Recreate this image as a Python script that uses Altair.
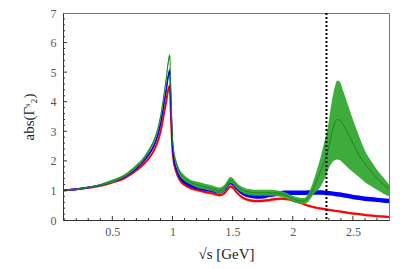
import altair as alt
import pandas as pd

# sqrt(s) grid [GeV]
X = [0.09, 0.2, 0.3, 0.4, 0.5, 0.6, 0.7, 0.75, 0.8, 0.85, 0.88, 0.91, 0.93, 0.95,
     0.962, 0.972, 0.978, 0.984, 0.992, 1.0, 1.01, 1.03, 1.06, 1.1, 1.15, 1.2, 1.27,
     1.33, 1.39, 1.43, 1.46, 1.48, 1.5, 1.53, 1.59, 1.65, 1.7, 1.76, 1.81, 1.86, 1.91,
     1.96, 2.0, 2.05, 2.09, 2.13, 2.17, 2.2, 2.23, 2.26, 2.29, 2.32, 2.35, 2.37, 2.39,
     2.42, 2.45, 2.5, 2.55, 2.6, 2.65, 2.7, 2.75, 2.8]

red_c = [1.0, 1.04, 1.09, 1.16, 1.27, 1.41, 1.68, 1.85, 2.07, 2.38, 2.68, 3.15, 3.6, 4.05,
         4.35, 4.5, 4.52, 3.9, 3.05, 2.38, 1.98, 1.64, 1.36, 1.19, 1.08, 1.02, 0.95,
         0.9, 0.84, 0.9, 1.05, 1.13, 1.1, 0.95, 0.74, 0.66, 0.64, 0.65, 0.68, 0.71, 0.72,
         0.7, 0.66, 0.6, 0.54, 0.48, 0.44, 0.41, 0.39, 0.37, 0.35, 0.33, 0.31, 0.3, 0.29,
         0.27, 0.25, 0.22, 0.2, 0.17, 0.15, 0.13, 0.12, 0.1]
red_e = [0.03] * 13 + [0.07] * 6 + [0.05] * 21 + [0.04] * 24

blue_c = [1.0, 1.04, 1.1, 1.18, 1.3, 1.46, 1.76, 1.95, 2.2, 2.55, 2.9, 3.45, 3.95, 4.45,
          4.8, 5.0, 5.05, 4.3, 3.3, 2.55, 2.1, 1.75, 1.45, 1.28, 1.17, 1.1, 1.04,
          1.0, 0.95, 1.02, 1.18, 1.26, 1.22, 1.08, 0.88, 0.82, 0.79, 0.8, 0.85, 0.88, 0.91,
          0.92, 0.92, 0.92, 0.92, 0.93, 0.93, 0.93, 0.93, 0.92, 0.91, 0.9, 0.88, 0.87, 0.86,
          0.84, 0.82, 0.78, 0.75, 0.72, 0.7, 0.68, 0.66, 0.64]
blue_e = [0.03] * 6 + [0.05] * 7 + [0.08] * 6 + [0.06] * 6 + [0.06] * 10 + [0.075] * 29

green_c = [1.0, 1.04, 1.1, 1.19, 1.32, 1.5, 1.82, 2.02, 2.32, 2.72, 3.1, 3.7, 4.25, 4.85,
           5.25, 5.5, 5.55, 4.7, 3.6, 2.8, 2.35, 1.95, 1.62, 1.42, 1.28, 1.2, 1.13,
           1.07, 1.0, 1.08, 1.26, 1.35, 1.32, 1.18, 1.0, 0.94, 0.92, 0.92, 0.92, 0.91, 0.87,
           0.8, 0.72, 0.66, 0.64, 0.76, 1.05, 1.33, 1.65, 1.95, 2.3, 2.85, 3.3, 3.4, 3.38,
           3.22, 3.0, 2.6, 2.2, 1.9, 1.65, 1.42, 1.22, 1.04]
green_lo = [0.98, 1.02, 1.08, 1.16, 1.27, 1.45, 1.76, 1.96, 2.26, 2.65, 3.02, 3.6, 4.15, 4.75,
            5.15, 5.4, 5.45, 4.6, 3.5, 2.7, 2.25, 1.85, 1.52, 1.33, 1.2, 1.10, 1.03,
            0.97, 0.90, 0.98, 1.16, 1.25, 1.22, 1.08, 0.90, 0.84, 0.82, 0.82, 0.82, 0.81, 0.77,
            0.70, 0.62, 0.56, 0.54, 0.62, 0.85, 0.98, 1.12, 1.35, 1.65, 1.9, 2.02, 2.05, 2.03,
            1.92, 1.8, 1.62, 1.45, 1.28, 1.15, 1.02, 0.9, 0.8]
green_hi = [1.02, 1.06, 1.12, 1.22, 1.37, 1.55, 1.88, 2.08, 2.38, 2.79, 3.18, 3.8, 4.35, 4.95,
            5.35, 5.6, 5.62, 4.8, 3.7, 2.9, 2.45, 2.05, 1.72, 1.51, 1.36, 1.30, 1.23,
            1.17, 1.10, 1.18, 1.36, 1.45, 1.42, 1.28, 1.10, 1.04, 1.02, 1.02, 1.02, 1.01, 0.97,
            0.90, 0.82, 0.76, 0.74, 0.9, 1.3, 1.68, 2.1, 2.6, 3.1, 3.9, 4.5, 4.72, 4.68,
            4.35, 4.0, 3.4, 2.85, 2.35, 2.0, 1.7, 1.45, 1.2]

threshold = [2.28]

x_major = [0.5, 1, 1.5, 2, 2.5]
x_minor = [0.1, 0.2, 0.3, 0.4, 0.6, 0.7, 0.8, 0.9, 1.1, 1.2, 1.3, 1.4, 1.6, 1.7, 1.8, 1.9,
           2.1, 2.2, 2.3, 2.4, 2.6, 2.7]
y_labels = [0, 1, 2, 3, 4, 5, 6, 7]
y_major = [1, 2, 3, 4, 5, 6]
y_minor = [0.2, 0.4, 0.6, 0.8, 1.2, 1.4, 1.6, 1.8, 2.2, 2.4, 2.6, 2.8, 3.2, 3.4, 3.6, 3.8,
           4.2, 4.4, 4.6, 4.8, 5.2, 5.4, 5.6, 5.8, 6.2, 6.4, 6.6, 6.8]

W, H = 326, 207
FONT = "Liberation Serif"

xs = alt.Scale(domain=[0.09, 2.8], nice=False, zero=False)
ys = alt.Scale(domain=[0, 7], nice=False)

XAX = alt.Axis(values=x_major, format="~g", title="√s [GeV]", ticks=False,
               grid=False, domainColor="#333", labelFont=FONT, labelFontSize=12,
               labelColor="#555", labelPadding=6, titleFont=FONT, titleFontSize=15,
               titleFontWeight="normal", titleColor="#222", titlePadding=9)
YAX = alt.Axis(values=y_labels, format="d", title="abs(Γ\u02e2\u2082)",
               ticks=False, grid=False, domainColor="#333", labelFont=FONT,
               labelFontSize=12, labelColor="#555", labelPadding=7, titleFont=FONT,
               titleFontSize=15, titleFontWeight="normal", titleColor="#222",
               titlePadding=14)


def XE(field):
    return alt.X(field, scale=xs, axis=XAX, title="√s [GeV]")


def YE(field):
    return alt.Y(field, scale=ys, axis=YAX, title="abs(Γ\u02e2\u2082)")


def band_df(c, lo, hi):
    return pd.DataFrame({"x": X, "c": c, "lo": lo, "hi": hi})


red = band_df(red_c, [a - b for a, b in zip(red_c, red_e)], [a + b for a, b in zip(red_c, red_e)])
blue = band_df(blue_c, [a - b for a, b in zip(blue_c, blue_e)], [a + b for a, b in zip(blue_c, blue_e)])
green = band_df(green_c, green_lo, green_hi)


def area(df, color, opacity):
    return alt.Chart(df).mark_area(color=color, opacity=opacity, interpolate="monotone",
                                   clip=True).encode(x=XE("x:Q"), y=YE("lo:Q"), y2="hi:Q")


def line(df, color, width):
    return alt.Chart(df).mark_line(color=color, strokeWidth=width, interpolate="monotone",
                                   clip=True).encode(x=XE("x:Q"), y=YE("c:Q"))


def xticks(vals, length):
    return alt.Chart(pd.DataFrame({"v": vals})).mark_rule(color="#333", strokeWidth=1).encode(
        x=XE("v:Q"), y=alt.value(H), y2=alt.value(H - length))


def yticks(vals, length):
    return alt.Chart(pd.DataFrame({"v": vals})).mark_rule(color="#333", strokeWidth=1).encode(
        y=YE("v:Q"), x=alt.value(0), x2=alt.value(length))


vline = alt.Chart(pd.DataFrame({"v": threshold})).mark_rule(
    color="black", strokeWidth=2, strokeDash=[2, 2]).encode(x=XE("v:Q"))

chart = alt.layer(
    area(red, "#ff2a2a", 0.6), line(red, "#ff0000", 2),
    area(blue, "#0000ff", 1.0), line(blue, "#0000ff", 1.5),
    area(green, "#33a833", 0.95), line(green, "#1d861d", 1),
    vline,
    xticks(x_major, 4), xticks(x_minor, 2), yticks(y_major, 4), yticks(y_minor, 2),
).properties(
    width=W, height=H,
    autosize=alt.AutoSizeParams(type="none"),
    padding={"left": 55, "top": 5, "right": 15, "bottom": 48},
).configure_view(stroke="#777", strokeWidth=1)

chart.save("out.html", embed_options={"renderer": "svg", "actions": False})
